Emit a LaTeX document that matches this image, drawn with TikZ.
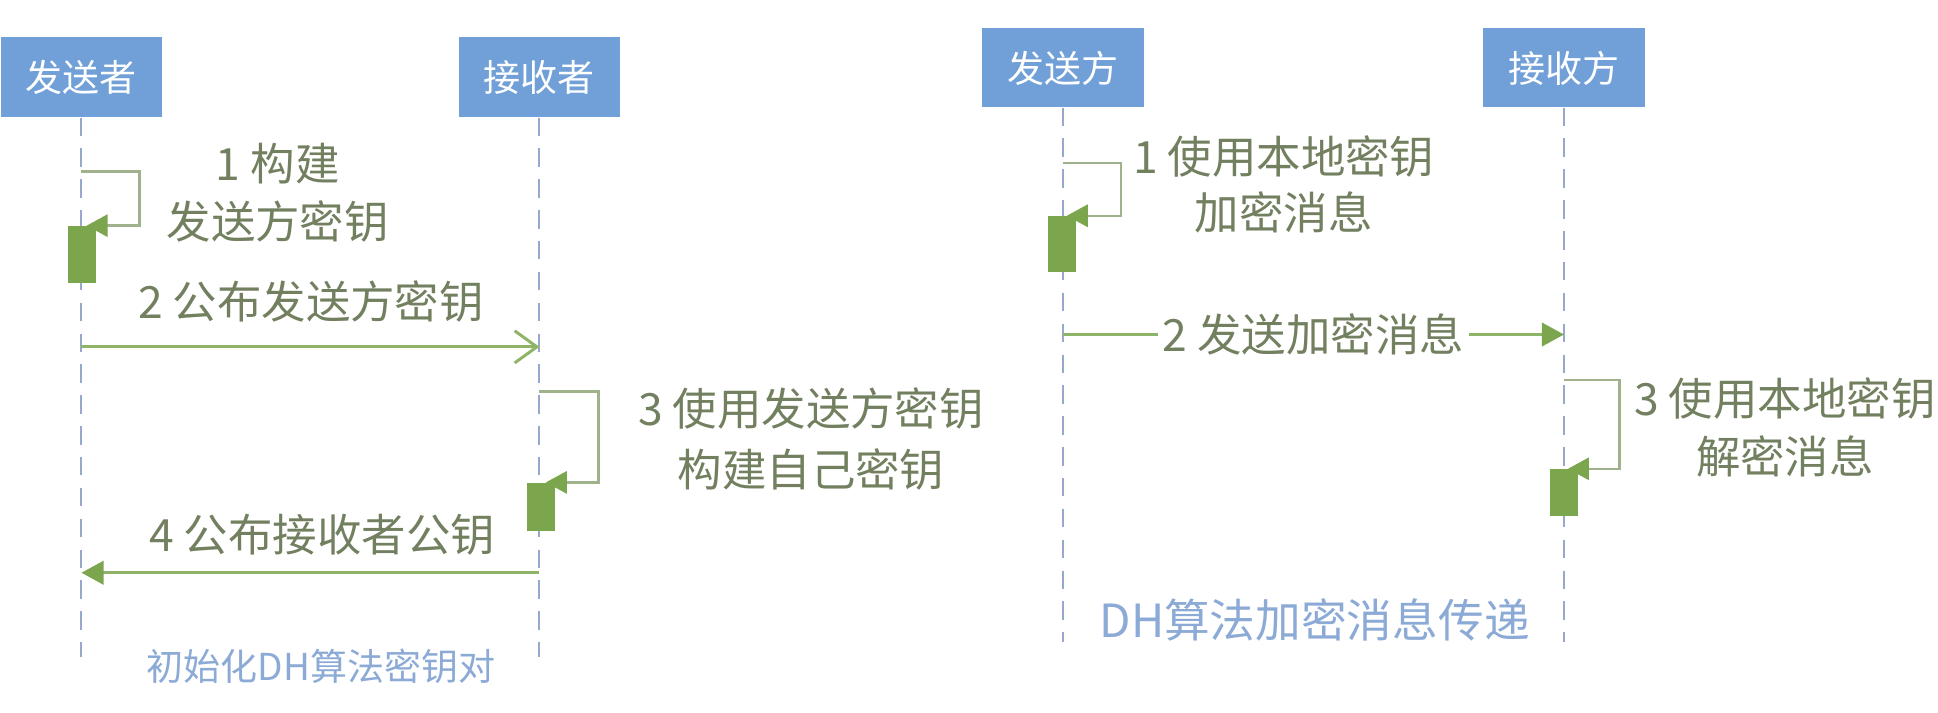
\documentclass[tikz,border=0pt]{standalone}
\usepackage{fontspec}
\setmainfont{Noto Sans CJK SC}
\usetikzlibrary{arrows.meta}
\definecolor{boxblue}{RGB}{112,160,215}
\definecolor{lifeblue}{RGB}{150,168,205}
\definecolor{msggreen}{RGB}{142,180,104}
\definecolor{loopgreen}{RGB}{160,178,140}
\definecolor{bargreen}{RGB}{124,166,78}
\definecolor{labeltxt}{RGB}{114,128,96}
\definecolor{captxt}{RGB}{140,170,214}
\begin{document}
\begin{tikzpicture}[x=1pt,y=-1pt,
 actor/.style={fill=boxblue, text=white, minimum width=131pt, minimum height=64pt, inner sep=0pt, font=\fontsize{30}{36}\selectfont},
 lifeline/.style={draw=lifeblue, line width=1.6pt, dash pattern=on 15pt off 10pt},
 actbar/.style={fill=bargreen, inner sep=0pt},
 selfline/.style={draw=loopgreen, line width=2pt, -{Triangle[length=17pt,width=18pt,color=bargreen]}},
 msgopen/.style={draw=msggreen, line width=2.4pt, -{Straight Barb[length=18pt,width=26pt]}},
 msgfill/.style={draw=msggreen, line width=2.4pt, -{Triangle[length=18pt,width=19pt,color=bargreen]}},
 lbl/.style={text=labeltxt, align=center, inner sep=0pt},
 captext/.style={text=captxt, inner sep=0pt}]
\fill[white] (0,0) rectangle (1570,577);
\useasboundingbox (0,0) rectangle (1570,577);

% ---------- left diagram ----------
\node[actor, minimum height=65pt] (A) at (66,62.5) {发送者};
\node[actor, minimum height=65pt] (B) at (437,62.5) {接收者};
\coordinate (Aend) at (66,532);
\coordinate (Bend) at (437,532);
\draw[lifeline] (A.south) -- (Aend);
\draw[lifeline] (B.south) -- (Bend);

\node[actbar, minimum width=23pt, minimum height=46pt] (bar1) at (66.5,206) {};
\coordinate (s1) at (66,139);
\draw[selfline] (s1) -- ++(47,0) |- ([xshift=-8pt]bar1.north east);
\node[lbl, font=\fontsize{36}{47}\selectfont] (l1) at (225,156.5) {1 构建\\发送方密钥};

\coordinate (m2a) at (66,281);
\coordinate (m2b) at (437,281);
\draw[msgopen] (m2a) -- (m2b);
\node[lbl, font=\fontsize{36}{47}\selectfont] (l2) at (252,244) {2 公布发送方密钥};

\node[actbar, minimum width=23pt, minimum height=39pt] (bar3) at (438.5,410.5) {};
\coordinate (s3) at (437,317);
\draw[selfline] (s3) -- ++(48,0) |- ([xshift=-8pt]bar3.north east);
\node[lbl, font=\fontsize{36}{49}\selectfont] (l3) at (657,355.5) {3 使用发送方密钥\\构建自己密钥};

\coordinate (m4a) at (437,464);
\coordinate (m4b) at (66,464);
\draw[msgfill] (m4a) -- (m4b);
\node[lbl, font=\fontsize{36}{47}\selectfont] (l4) at (261,433) {4 公布接收者公钥};

\node[captext, font=\fontsize{30}{36}\selectfont] (c1) at (260,540) {初始化DH算法密钥对};

% ---------- right diagram ----------
\node[actor] (C) at (861,55) {发送方};
\node[actor] (D) at (1267,55) {接收方};
\coordinate (Cend) at (861,520);
\coordinate (Dend) at (1267,520);
\draw[lifeline] (C.south) -- (Cend);
\draw[lifeline] (D.south) -- (Dend);

\node[actbar, minimum width=23pt, minimum height=45pt] (rbar1) at (860.5,197.5) {};
\coordinate (r1) at (861,132);
\draw[selfline] (r1) -- ++(47,0) |- ([xshift=-8pt]rbar1.north east);
\node[lbl, font=\fontsize{36}{45}\selectfont] (rl1) at (1040,149.5) {1 使用本地密钥\\加密消息};

\coordinate (rm2a) at (861,271);
\coordinate (rm2b) at (1267,271);
\draw[msgfill] (rm2a) -- node[lbl, fill=white, inner xsep=4pt, inner ysep=2pt, font=\fontsize{36}{45}\selectfont] (rl2) {2 发送加密消息} (rm2b);

\node[actbar, minimum width=22pt, minimum height=38pt] (rbar3) at (1267,399) {};
\coordinate (r3) at (1267,308);
\draw[selfline] (r3) -- ++(45,0) |- ([xshift=-8pt]rbar3.north east);
\node[lbl, font=\fontsize{36}{47}\selectfont] (rl3) at (1446,346.5) {3 使用本地密钥\\解密消息};

\node[captext, font=\fontsize{37}{44}\selectfont] (c2) at (1065,502) {DH算法加密消息传递};
\end{tikzpicture}
\end{document}
